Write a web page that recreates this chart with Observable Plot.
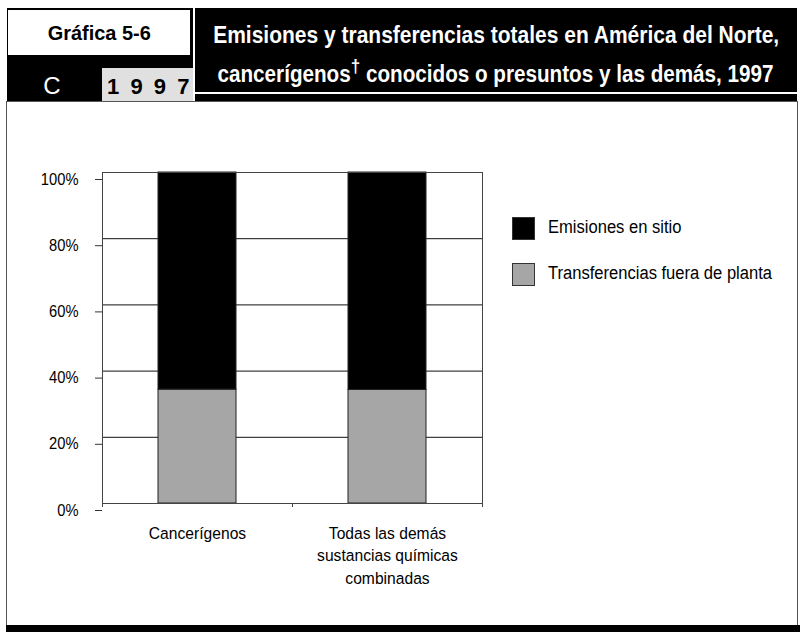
<!DOCTYPE html>
<html>
<head>
<meta charset="utf-8">
<script src="https://cdn.jsdelivr.net/npm/d3@7"></script>
<script src="https://cdn.jsdelivr.net/npm/@observablehq/plot@0.6"></script>
<style>
  html, body { margin: 0; padding: 0; background: #fff; }
  body { width: 800px; height: 632px; position: relative; overflow: hidden;
         font-family: "Liberation Sans", Arial, sans-serif; }
  .abs { position: absolute; box-sizing: border-box; }
  .row { position: absolute; text-align: center; white-space: nowrap; }
  .fit { display: inline-block; transform-origin: 50% 50%; white-space: nowrap; }
  #hdr { left: 7px; top: 8px; width: 790px; height: 94px; background: #000; }
  #figbox { left: 8px; top: 10px; width: 182px; height: 45px; background: #fff; }
  #yrbox  { left: 102px; top: 68px; width: 91px; height: 33px; background: #e0e0e0; }
  #vsep { left: 193px; top: 8px; width: 2px; height: 94px; background: #fff; }
  #hsep { left: 195px; top: 92px; width: 602px; height: 2px; background: #fff; }
  #panel { left: 6px; top: 101px; width: 792px; height: 524px; border-left: 1px solid #555; border-right: 1px solid #555; border-top: 1px solid #555; }
  #foot { left: 6px; top: 625px; width: 794px; height: 7px; background: #000; }
  #chart { left: 7px; top: 102px; }
  #fig { left: -101px; width: 400px; top: 22px; font-weight: bold; font-size: 21px; line-height: 21px; color: #000; }
  #sec { left: 22px; width: 60px; top: 74px; font-size: 24px; line-height: 24px; color: #fff; }
  #yr  { left: 107px; top: 75.5px; font-weight: bold; font-size: 22px; line-height: 22px; letter-spacing: 11.2px; color: #000; white-space: nowrap; }
  .ttl { left: -4px; width: 1000px; font-weight: bold; font-size: 23px; line-height: 23px; color: #fff; }
  .ttl sup { font-size: 19px; line-height: 0; position: relative; top: -1px; vertical-align: super; }
  .lg-box { width: 23px; height: 23px; border: 1px solid #333; }
  .lg-txt { font-size: 18px; line-height: 18px; color: #000; white-space: nowrap; transform-origin: 0 50%; }
</style>
</head>
<body>
<div id="hdr" class="abs"></div>
<div id="figbox" class="abs"></div>
<div id="yrbox" class="abs"></div>
<div id="vsep" class="abs"></div>
<div id="hsep" class="abs"></div>
<div id="panel" class="abs"></div>
<div id="foot" class="abs"></div>
<div id="fig" class="row"><span class="fit" data-w="103">Gráfica 5-6</span></div>
<div id="sec" class="row"><span>C</span></div>
<div id="yr" class="abs">1997</div>
<div class="row ttl" style="top:23.5px"><span class="fit" data-w="566">Emisiones y transferencias totales en América del Norte,</span></div>
<div class="row ttl" style="top:62.5px"><span class="fit" data-w="556">cancerígenos<sup>†</sup> conocidos o presuntos y las demás, 1997</span></div>
<div id="chart" class="abs"></div>
<div id="legend"></div>

<script>
// ---- data ----
const categories = ["Cancerígenos", "Todas las demás\nsustancias químicas\ncombinadas"];
const seriesNames = ["Transferencias fuera de planta", "Emisiones en sitio"];
const transferencias = [34.4, 34.3];
const emisiones = [65.6, 65.7];
const yTicks = [0, 20, 40, 60, 80, 100];
const seriesColors = ["#a6a6a6", "#000000"];
const legendOrder = ["Emisiones en sitio", "Transferencias fuera de planta"];

const rows = [];
categories.forEach((c, i) => {
  rows.push({cat: c, series: seriesNames[0], value: transferencias[i]});
  rows.push({cat: c, series: seriesNames[1], value: emisiones[i]});
});

// narrow the header texts to the widths of the original condensed type
document.querySelectorAll(".fit").forEach(el => {
  const target = +el.dataset.w;
  const w = el.getBoundingClientRect().width;
  if (w > 0) el.style.transform = `scaleX(${target / w})`;
});

// custom mark: x-axis ticks at the band boundaries
function bandBoundaryTicks(index, scales, values, dimensions) {
  const x = scales.x;
  const bw = typeof x.bandwidth === "function" ? x.bandwidth() : 0;
  const left = dimensions.marginLeft;
  const right = dimensions.width - dimensions.marginRight;
  const bottom = dimensions.height - dimensions.marginBottom;
  const pos = [left];
  for (let i = 1; i < categories.length; i++) {
    pos.push((x(categories[i - 1]) + x(categories[i])) / 2 + bw / 2);
  }
  pos.push(right);
  const g = d3.create("svg:g").attr("stroke", "#444").attr("stroke-width", 1);
  g.selectAll("line").data(pos).join("line")
    .attr("x1", d => Math.round(d) + 0.5).attr("x2", d => Math.round(d) + 0.5)
    .attr("y1", bottom).attr("y2", bottom + 4);
  return g.node();
}

const chart = Plot.plot({
  width: 790,
  height: 523,
  marginLeft: 95,
  marginRight: 315,
  marginTop: 70,
  marginBottom: 122,
  style: {fontFamily: '"Liberation Sans", Arial, sans-serif', fontSize: "16px", color: "#000", background: "transparent", overflow: "visible"},
  x: {domain: categories, paddingInner: 0.59, paddingOuter: 0.295, label: null},
  y: {domain: [0, 100], label: null},
  color: {domain: seriesNames, range: seriesColors},
  marks: [
    Plot.gridY(yTicks, {stroke: "#111", strokeOpacity: 1, strokeWidth: 1}),
    Plot.axisY(yTicks, {tickSize: 7, tickPadding: 17, tickFormat: d => d + "%", dy: 7,
                        stroke: "#333", fill: "#000", fontSize: 16, label: null}),
    Plot.axisX({tickSize: 0, tickPadding: 19, fontSize: 17, lineHeight: 1.33, fill: "#000", label: null}),
    Plot.barY(rows, Plot.stackY({x: "cat", y: "value", fill: "series", stroke: "#222", strokeWidth: 1})),
    Plot.frame({stroke: "#444", strokeWidth: 1}),
    bandBoundaryTicks
  ]
});
document.getElementById("chart").appendChild(chart);

// condense the chart's text horizontally around each label's anchor
chart.querySelectorAll("text").forEach(t => {
  let tr = t.getAttribute("transform") || "";
  const x = t.getAttribute("x");
  if (x !== null && x.indexOf(",") < 0 && x.indexOf(" ") < 0 && +x !== 0) {
    t.removeAttribute("x");
    tr += ` translate(${x},0)`;
  }
  t.setAttribute("transform", tr + " scale(0.92,1)");
});

// legend (HTML, built from the series names and colours)
const legend = document.getElementById("legend");
legendOrder.forEach((name, i) => {
  const color = seriesColors[seriesNames.indexOf(name)];
  const box = document.createElement("div");
  box.className = "abs lg-box";
  box.style.left = "512px";
  box.style.top = (216.5 + i * 46) + "px";
  box.style.background = color;
  legend.appendChild(box);
  const txt = document.createElement("div");
  txt.className = "abs lg-txt";
  txt.style.left = "548px";
  txt.style.top = (218 + i * 46) + "px";
  txt.style.transform = "scaleX(0.92)";
  txt.textContent = name;
  legend.appendChild(txt);
});
</script>
</body>
</html>
